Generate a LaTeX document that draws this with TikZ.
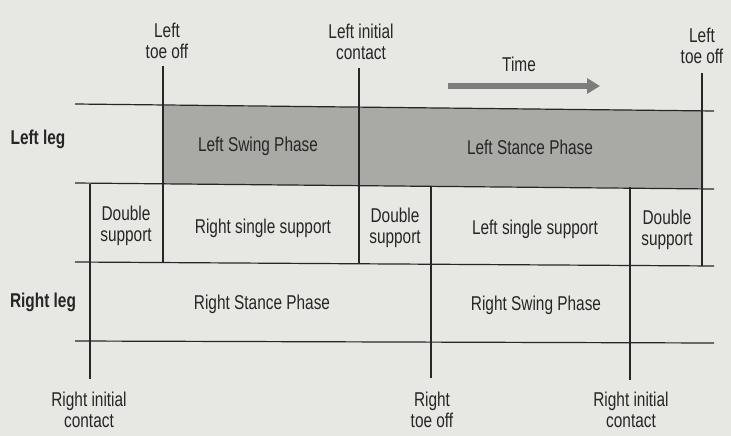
\documentclass[tikz,border=0pt]{standalone}
\usepackage{fontspec}
\setmainfont{Liberation Sans}[FakeStretch=0.77]
\usepackage{tikz}
\usetikzlibrary{arrows.meta}

\definecolor{paper}{HTML}{E7E7E4}
\definecolor{bandgray}{HTML}{A9A9A6}
\definecolor{ink}{HTML}{262626}
\definecolor{arrowgray}{HTML}{7D7D7B}

\tikzset{
  event/.style={draw=ink, line width=2.6pt},
  rowline/.style={draw=ink, line width=1.2pt},
  lbl/.style={text=ink, align=center, inner sep=0pt, font=\fontsize{20}{20.5}\selectfont},
  leglbl/.style={lbl, font=\fontsize{20}{20.5}\selectfont\bfseries},
  timearrow/.style={draw=arrowgray, line width=5pt, -{Triangle[length=13pt,width=15pt]}}
}

\begin{document}
\begin{tikzpicture}[x=1pt,y=-1pt]
        \fill[paper] (0,0) rectangle (731,436);
        \useasboundingbox (0,0) rectangle (731,436);

        % row borders
        \coordinate (r1w) at (75,104);  \coordinate (r1e) at (714,111);
        \coordinate (r2w) at (75,183);  \coordinate (r2e) at (714,189);
        \coordinate (r3w) at (75,262);  \coordinate (r3e) at (714,266);
        \coordinate (r4w) at (75,341);  \coordinate (r4e) at (714,343);

        % shaded band of the left leg
        \fill[bandgray] (163,105.5) -- (703,110.5) -- (703,188.5) -- (163,184) -- cycle;

        \foreach \r in {1,2,3,4}
          \draw[rowline] (r\r w) -- (r\r e);

        % event lines
        \coordinate (ltoA-t) at (163,66);  \coordinate (ltoA-b) at (163,262);
        \coordinate (lic-t) at (359,68);   \coordinate (lic-b) at (359,263);
        \coordinate (ltoB-t) at (702,73);  \coordinate (ltoB-b) at (702,266);
        \coordinate (ricA-t) at (90,184);  \coordinate (ricA-b) at (90,379);
        \coordinate (rto-t) at (431,187);  \coordinate (rto-b) at (431,378);
        \coordinate (ricB-t) at (630,187); \coordinate (ricB-b) at (630,380);
        \foreach \e in {ltoA,lic,ltoB,ricA,rto,ricB}
          \draw[event] (\e-t) -- (\e-b);

        \node[lbl] (ltoA) at (167,41) {Left\\toe off};
        \node[lbl] (lic) at (361,42) {Left initial\\contact};
        \node[lbl] (ltoB) at (702,46) {Left\\toe off};
        \node[lbl] (ricA) at (89,410) {Right initial\\contact};
        \node[lbl] (rto) at (432,410) {Right\\toe off};
        \node[lbl] (ricB) at (631,410) {Right initial\\contact};

        % time arrow
        \node[lbl] (time) at (519,64) {Time};
        \coordinate (t0) at (448,86);
        \coordinate (t1) at (600,86);
        \draw[timearrow] (t0) -- (t1);

        \node[leglbl] (lleg) at (38,139) {Left leg};
        \node[leglbl] (rleg) at (43,302) {Right leg};

        \node[lbl] (lswing) at (258,146) {Left Swing Phase};
        \node[lbl] (lstance) at (530,147) {Left Stance Phase};

        \node[lbl] (dsA) at (126,226) {Double\\support};
        \node[lbl] (rss) at (263,228) {Right single support};
        \node[lbl] (dsB) at (395,228) {Double\\support};
        \node[lbl] (lss) at (535,229) {Left single support};
        \node[lbl] (dsC) at (667,230) {Double\\support};

        \node[lbl] (rstance) at (262,304) {Right Stance Phase};
        \node[lbl] (rswing) at (536,305) {Right Swing Phase};
      \end{tikzpicture}
\end{document}
